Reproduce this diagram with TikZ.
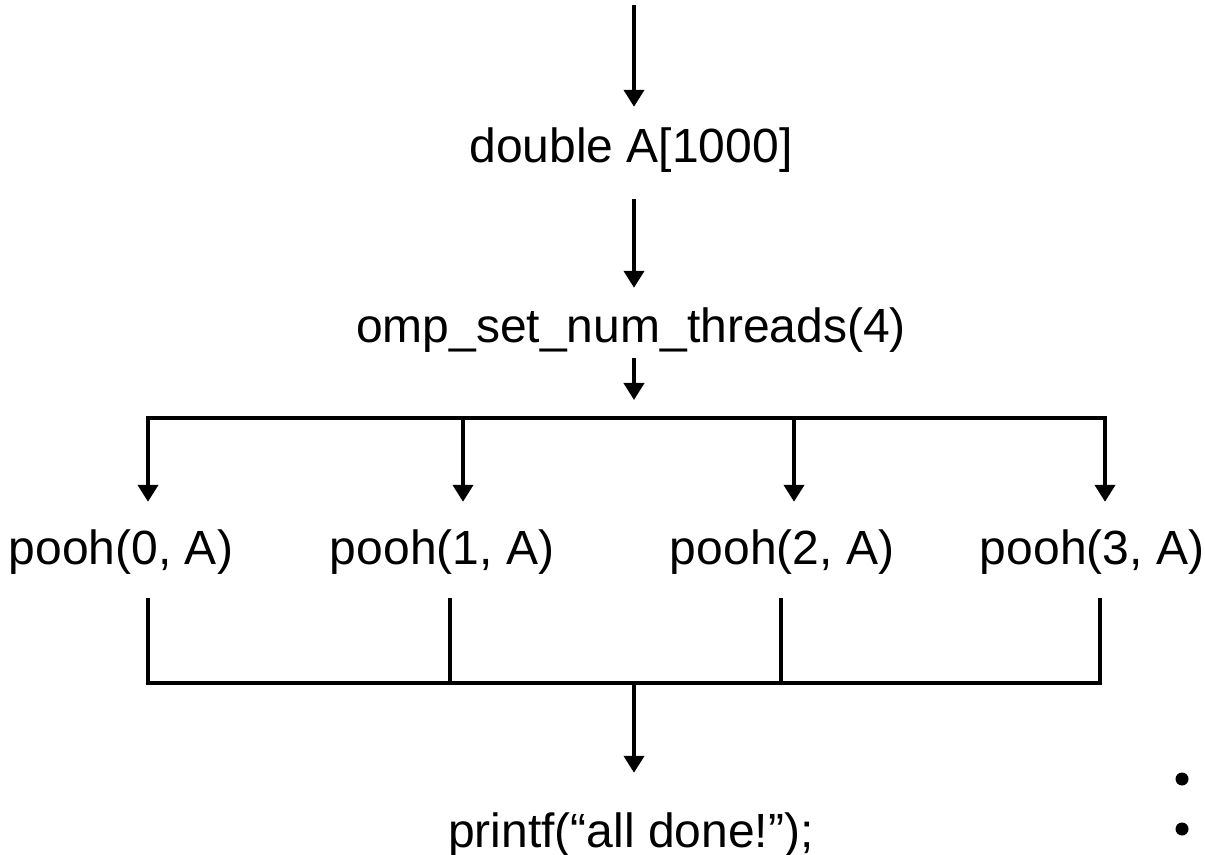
\documentclass[tikz,border=0pt]{standalone}
\usepackage{fontspec}
\setmainfont{Liberation Sans}
\usetikzlibrary{arrows.meta}
\tikzset{
  flow/.style={line width=2pt, -{Triangle[length=8.5pt,width=10pt]}},
  wire/.style={line width=2pt},
  stmt/.style={inner sep=0pt, anchor=base, font=\fontsize{24}{28}\selectfont},
  dot/.style={circle, fill, inner sep=0pt, minimum size=6.5pt}
}
\begin{document}
\begin{tikzpicture}[x=0.5pt, y=-0.5pt]
        \useasboundingbox (0,0) rectangle (1205,855);

        % Serial part
        \coordinate (start) at (634,5);
        \node[stmt] (decl) at (631,163) {double A[1000]};
        \node[stmt] (setn) at (631,343) {omp\_set\_num\_threads(4)};

        \draw[flow, shorten >=10.5pt] (start) -- (start |- decl.north);
        \draw[flow, shorten <=13pt, shorten >=10pt] (start |- decl.south) -- (start |- setn.north);

        % Fork
        \coordinate (fork) at (634,418);
        \coordinate (f0) at (148,418);
        \coordinate (f1) at (463,418);
        \coordinate (f2) at (794,418);
        \coordinate (f3) at (1105,418);
        \draw[flow, shorten <=2.5pt, shorten >=9pt] (start |- setn.south) -- (fork);
        \draw[wire, line cap=rect] (f0) -- (f3);

        % Threads
        \node[stmt] (p0) at (121,565) {pooh(0, A)};
        \node[stmt] (p1) at (442,565) {pooh(1, A)};
        \node[stmt] (p2) at (782,565) {pooh(2, A)};
        \node[stmt] (p3) at (1092,565) {pooh(3, A)};

        % Join
        \coordinate (j0) at (148,683);
        \coordinate (j1) at (450,683);
        \coordinate (j2) at (781,683);
        \coordinate (j3) at (1100,683);
        \coordinate (join) at (634,683);

        \foreach \i in {0,1,2,3} {
            \draw[flow, shorten >=14pt] (f\i) -- (f\i |- p\i.north);
            \draw[wire, shorten <=11.5pt] (j\i |- p\i.south) -- (j\i);
        }
        \draw[wire, line cap=rect] (j0) -- (j3);

        \node[stmt] (done) at (631,847) {printf(“all done!”);};
        \draw[flow, shorten >=19.5pt] (join) -- (join |- done.north);

        % Bullets
        \node[dot] (b1) at (1182,779) {};
        \node[dot] (b2) at (1182,829) {};
\end{tikzpicture}
\end{document}
